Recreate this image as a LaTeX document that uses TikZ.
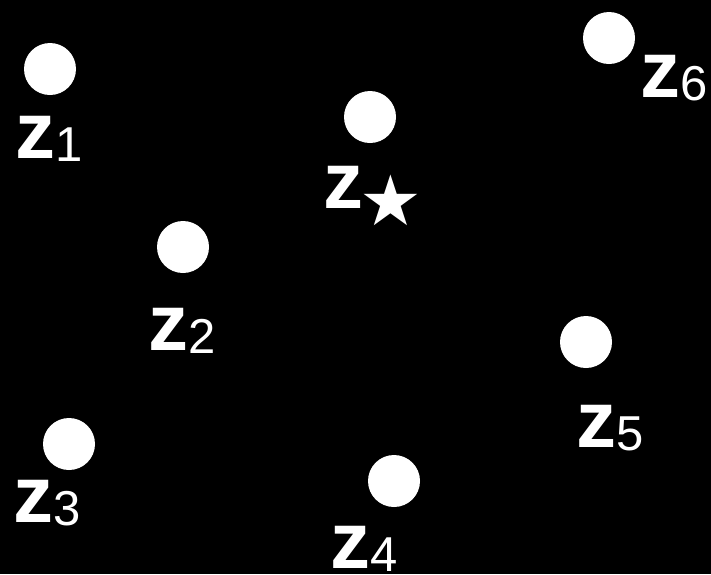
\documentclass[tikz,border=0pt]{standalone}
\usepackage{fontspec}
\setmainfont{Liberation Sans}
\newfontfamily\starfont{DejaVu Sans}
\tikzset{
  pt/.style={circle, fill=white, draw=none, minimum size=52pt, inner sep=0pt},
  lbl/.style={anchor=base west, inner sep=0pt, text=white, font=\fontsize{80}{84}\selectfont\bfseries}
}
\newcommand{\zsub}[1]{z\raisebox{-3pt}{\fontsize{49}{52}\selectfont\mdseries #1}}
\begin{document}
\begin{tikzpicture}[x=1pt,y=-1pt]
\fill[black] (0,0) rectangle (711,574);
\useasboundingbox (0,0) rectangle (711,574);
\node[pt] (c1) at (50,69) {};
\node[pt] (cs) at (370,117) {};
\node[pt] (c2) at (183,247) {};
\node[pt] (c6) at (609,38) {};
\node[pt] (c5) at (586,342) {};
\node[pt] (c3) at (69,444) {};
\node[pt] (c4) at (394,481) {};
\node[lbl] (l1) at (15,158) {\zsub{1}};
\node[lbl] (ls) at (323,208) {z\kern-4pt\raisebox{-17pt}{\starfont\mdseries\fontsize{70}{72}\selectfont ★}};
\node[lbl] (l2) at (148,350) {\zsub{2}};
\node[lbl] (l6) at (640,97) {\zsub{6}};
\node[lbl] (l5) at (576,447) {\zsub{5}};
\node[lbl] (l3) at (13,522) {\zsub{3}};
\node[lbl] (l4) at (330,568) {\zsub{4}};
\end{tikzpicture}
\end{document}
